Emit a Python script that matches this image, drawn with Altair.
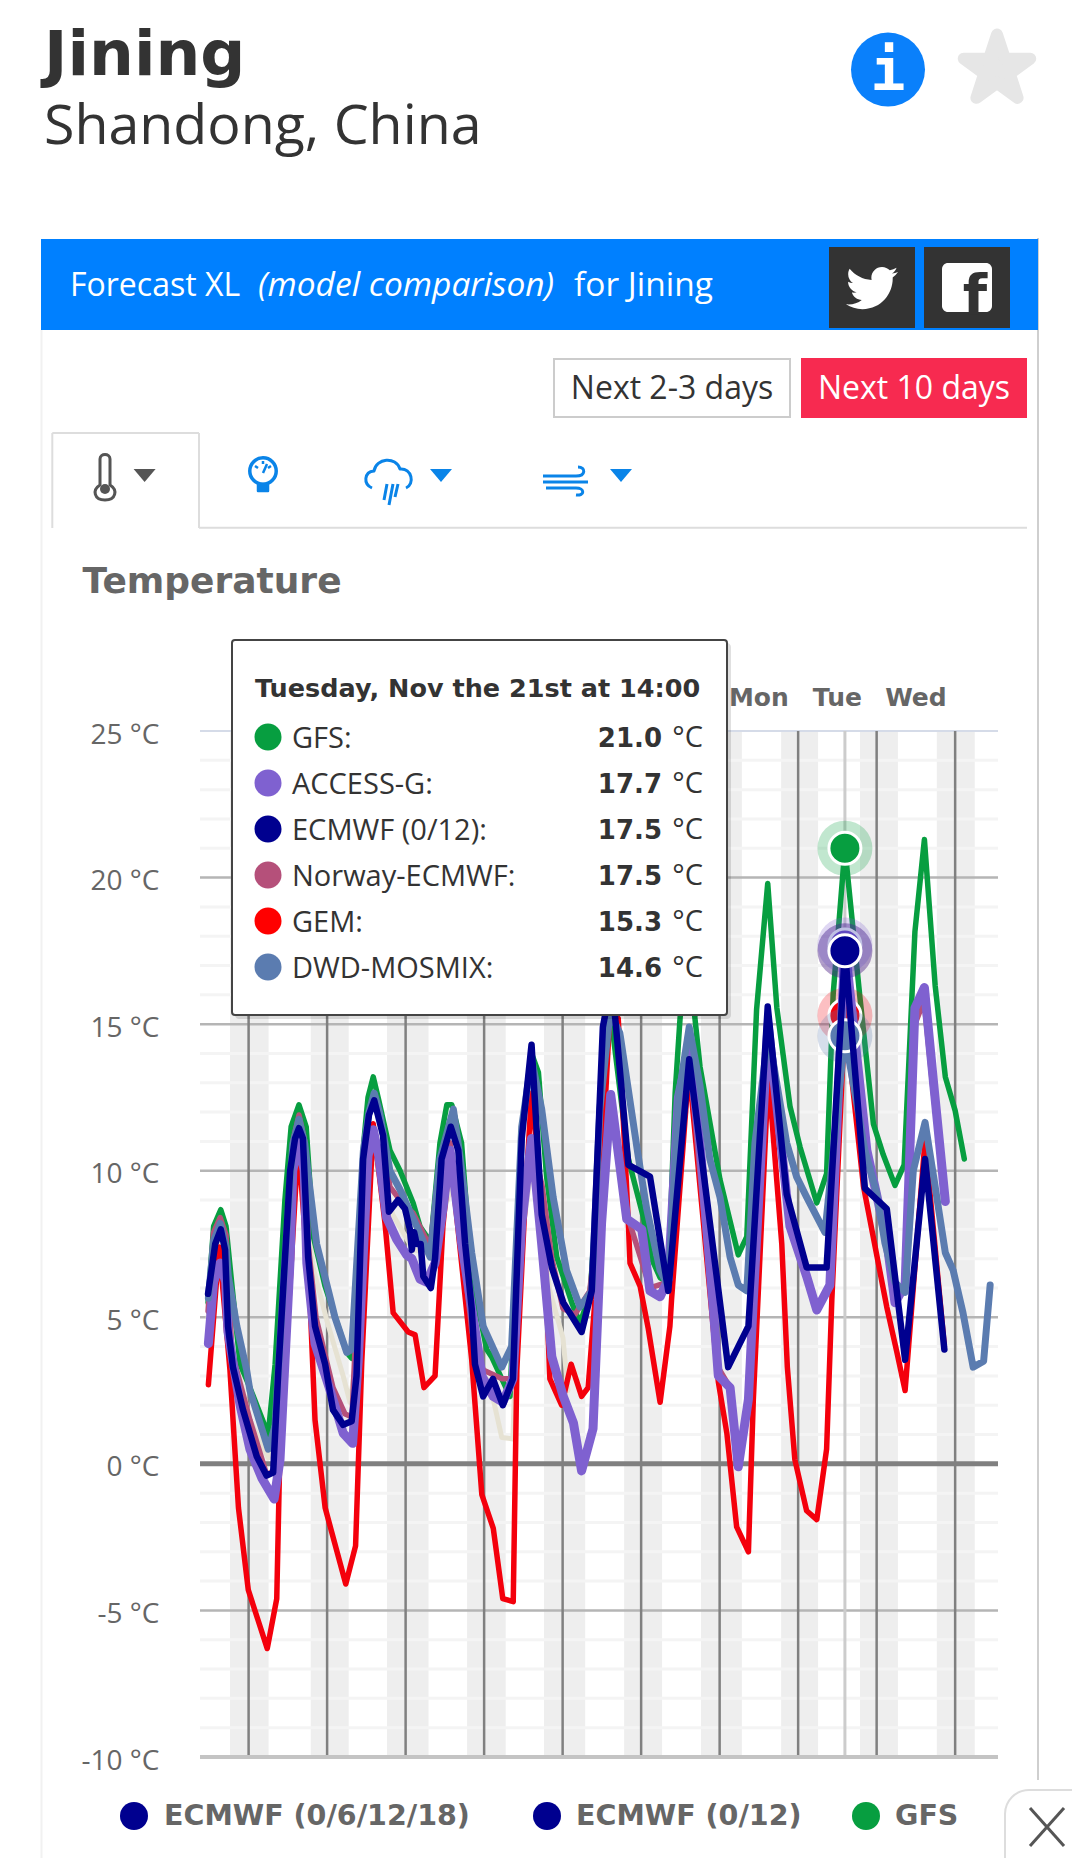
import altair as alt
import pandas as pd

# ---- chart data: hours after Tue Nov 14 00:00, temperatures in deg C ----
GFS_H = [-12.4,-10.7,-8.5,-6.9,-5.2,-2.6,0.4,6,8.1,11.1,13,15.4,17.6,19.8,23.4,30,31.5,35.2,36.5,38.1,39.8,43.2,46.3,50.3,52.4,55.7,58.5,60.6,62.1,65.1,68.2,72.8,74.3,79.9,83.5,86.5,88.6,91.1,94.2,98.8,101.3,104.4,110.5,116.1,120.7,123.2,125.8,128.3,130.4,131.9,134.6,136.4,138,144.1,149.7,152.3,155.3,158.7,161.5,165.5,168.6,173.7,176.7,178.7,182.3,186.9,191,194,197.6,200.4,203.7,206.6,209.9,213,216,218.8]
GFS_T = [5.5,8.1,8.67,8.1,6.2,3.4,2.6,1.0,3.4,9,11.5,12.25,11.5,7.75,6.05,3.8,3.6,10.95,12.5,13.2,12.4,10.7,10.0,8.9,8.1,7.55,10.95,12.25,12.25,10.95,6.4,3.9,3.65,2.3,11.3,14.0,13.35,9.8,7.06,5.5,4.8,5.8,15.5,10.4,8.4,7,6.35,6.2,12.65,15.2,18.5,15.25,13.55,9.7,7.13,7.75,15.5,19.8,15.55,12.2,10.8,8.9,9.9,16,21.0,15.9,11.6,10.55,9.5,10.2,18.15,21.3,16.3,13.2,12.05,10.4]

GEM_H = [-12.3,-9,-5.7,-3.1,-0.1,5.7,8.6,9.6,11.1,15.2,18.8,20.3,23.4,29.7,32.7,34.6,38.1,41.7,44.2,48.8,50.9,53.6,57,59.4,61.6,68.2,71.3,74.8,77.7,80.9,82,84.5,86.5,90.1,92.1,95.7,98.6,101.8,103.8,105.9,110.5,113,116.1,116.6,119.7,122.2,125.8,128.8,129.3,134.6,143.6,146.2,149.2,152.8,154.3,158.9,163,164.7,167,170.6,173.7,176.7,178.3,182.3,188,195.1,198.2,200.7,206.8,212.7]
GEM_T = [2.7,7.4,3.2,-1.5,-4.3,-6.3,-4.6,0.6,3.2,10.95,5.5,1.5,-1.5,-4.1,-2.8,3.5,11.6,8.2,5.15,4.5,4.4,2.6,3.0,8.1,10.6,3.55,-1.05,-2.2,-4.6,-4.7,3.2,8.9,12.65,8.4,2.9,2.0,3.4,2.3,2.6,5.6,15.5,15.2,8.2,6.85,6.05,4.6,2.1,4.7,5.6,13.5,2.8,1.05,-2.15,-3.0,2.2,13.3,7.5,3.3,0.14,-1.6,-1.9,0.5,5.6,15.3,9.45,5.35,3.8,2.5,11.05,4.0]

NORWAY_H = [-12.4,-10.7,-8.7,-6.9,-5.1,0.4,5.6,7.8,11.1,13.5,15.4,17.2,18.2,20.6,25.8,29.5,31.6,35,36.8,38.4,40,43.2,46.3,50.3,55.5,58.5,61.6,65.2,68.3,71.7,77.5,80.8,83.6,86.6,89.7,92.7,96.1,99.8,104.3,110.7,116,122.7,128.2,134.6,143.5,147.2,149.6,152.7,158.8,165.5,170.7,173.8,177.8,182.3,189.1,195.2,197.6,200.7,203.7,206.5,209.2,213]
NORWAY_T = [5.2,7.9,8.4,7.8,3.8,1.5,-0.4,-0.2,5,11,11.9,11,7.5,5,2.6,1.7,1.6,10,12,12.65,12,9.45,9.0,8.55,7.4,10.4,10.95,7.5,4.5,3.2,2.9,2.9,9,11,9.5,7,5.3,5.1,5.9,12.4,8.4,6,6.2,14,3.3,2.6,0,2.2,14.5,8.1,6.4,5.3,6.1,17.5,10.7,7.6,5.6,6.1,15,15.8,12.8,9]

ACCESS_H = [-12.3,-10.7,-8.7,-7,-6.3,-2.6,0.4,4.1,7.8,9.6,12.7,13.5,15.2,17,17.8,20.3,25.8,28.9,31.8,33.5,36.5,38.1,39.8,42.2,45.3,48.3,49.9,52.4,54.4,57,59.4,61.6,65.1,68.2,70.2,71.3,74.8,77.7,80.8,83.5,86.5,89.6,92.7,96.2,99.3,101.8,105.3,107.9,110.7,115.6,120.2,122.7,125.8,128.3,131.4,134.7,138,142.1,143.6,147.2,149.7,152.8,154.3,158.8,165.5,170.6,173.7,177.7,182.3,189,195.1,197.6,200.7,203.7,206.6,209.4,213]
ACCESS_T = [4.1,6.2,6.85,6.2,4.5,2.0,0.5,-0.5,-1.2,0.14,7,10,11,10,6.85,4.1,2.2,1.05,0.7,3.5,10.5,11.4,10.5,8.4,7.65,7.13,7,6.3,6.2,6.85,8.7,10.7,7.55,5.3,3.9,3.0,2.3,2.1,2.9,8.2,11.1,7.5,3.65,2.3,1.4,-0.24,1.2,8.2,12.6,8.35,8,5.9,5.7,6.3,12.5,14.2,10.95,5.25,3.0,2.6,-0.1,2.2,5.6,15,8.1,6.4,5.25,6.1,17.7,10.7,7.6,5.5,6.1,15.55,16.25,13,8.95]

DWD_H = [-12.3,-10.7,-8.7,-6.9,-6.2,-3.6,-0.6,0.4,6,8.1,11.1,13.5,15.4,17.2,18.3,20.8,24.4,26.4,30,31.5,35.1,36.8,38.4,40,43.2,46.3,51.4,55.5,58.5,62.6,64.6,68.2,71.7,77.4,80.4,83.5,86.5,89.6,93.1,97.2,101.3,104.9,107.4,110.5,113.5,119.1,121.7,125.8,128.3,131.4,134.7,138,141,144.1,147.2,149.7,152.3,154.8,158.9,164.5,167.5,170.6,176.2,182.3,188.4,192,194.5,197.6,200.7,203.2,206.8,209.9,213,215.4,218.4,221.5,224.7,226.7]
DWD_T = [5.65,7.6,8.2,7.4,6.4,4.7,3.2,2.5,0.5,1.3,7,10.9,11.75,10.9,9.8,7.5,5.9,5,3.8,3.9,10.7,12,12.65,12,10,9.35,8.1,7.05,10.4,12.1,10.5,7.2,4.7,3.3,4,11.5,13.8,12.1,9.1,6.6,5.35,5.9,12.1,15.4,14.7,10.5,8.7,6.6,6.05,12.5,14.9,12.9,10.4,9.1,7.05,6.1,5.9,10.95,14.7,10.95,9.8,9.1,7.9,14.6,10.7,9.25,7.55,6.2,5.85,10,11.65,9.45,7.2,6.6,5.15,3.3,3.5,6.1]

ECMWF_H = [-12.4,-10.2,-8.5,-7.2,-6.3,-4.8,-1.7,2.5,5.5,7.5,9.1,12.7,14.2,15.4,16.6,18.2,20.3,23.4,25.8,28.9,31.5,33,35,36.8,38.4,41.1,42.9,45.7,47.8,49.3,49.9,50.6,51.4,52.6,53.4,55.7,57,59,61.8,64.1,66.2,68.2,69.2,71.7,74.7,77.7,80.8,83.5,86.5,89.6,92.7,96.2,101.8,104.9,108.3,110.5,112,116.1,122.7,128.3,134.7,146.6,152.8,158.7,164.5,170.6,176.7,182.3,188.4,195.1,200.7,206.8,212.7]
ECMWF_T = [5.8,7.5,8.0,7.3,4.7,3.3,1.84,0.25,-0.4,-0.3,3.2,10.0,11.1,11.45,11.1,7.06,4.7,3.4,1.84,1.33,1.45,3.0,10.4,11.9,12.4,11.2,8.6,9.0,8.7,8.0,7.3,7.9,7.5,7.5,6.4,6.0,7,10.4,11.5,10.7,7.5,5.3,3.4,2.3,2.9,2.0,2.9,11.1,14.3,8.5,6.7,5.5,4.5,5.9,14.9,16.2,15.3,10.2,9.8,5.9,13.8,3.3,4.7,15.6,9.2,6.7,6.7,17.5,9.4,8.7,3.55,10.4,3.9]

OTHER_H = [-12.4,-8.7,-5.1,0.4,6,8.4,11.1,15.4,19.7,23.9,28.9,31,33.4,37.9,44.1,50.3,55.5,62.5,68.6,73.8,77.4,80.8,82.4,86.5,92.1,96.1,97.6]
OTHER_T = [5,8,4,1.5,0.2,0.8,6,11,6.7,4.9,3,2.1,4,10.65,8.5,7.3,7.2,9.6,3.65,2.7,0.9,0.85,6.7,10.2,5.9,4.3,2.5]

HOVER_HOUR = 182.3
MIDNIGHTS = [0,24,48,72,96,120,144,168,192,216]
NIGHT_START = [-5.7,19,42.3,66.8,90.3,114.8,138.3,162.8,186.9,210.4]
NIGHT_END = [6.1,30.6,55,78.6,102.9,126.4,150.8,174.1,198.5,222]
MINOR_T = [t for t in range(-9,25) if t % 5 != 0]
MAJOR_T = [-5,5,10,15,20]
Y_TICKS = [-10,-5,0,5,10,15,20,25]
DAY_NAMES = ["Mon","Tue","Wed"]
DAY_HOURS = [156,180,204]
TIP_ROWS = ["GFS:","ACCESS-G:","ECMWF (0/12):","Norway-ECMWF:","GEM:","DWD-MOSMIX:"]
TIP_VALUES = ["21.0","17.7","17.5","17.5","15.3","14.6"]
C_GFS,C_ACC,C_ECM,C_NOR,C_GEM,C_DWD = "#079e40","#7f61d0","#00008f","#b5507a","#f4000c","#5b7cb0"
C_TIP = [C_GFS,C_ACC,C_ECM,C_NOR,"#ff0000",C_DWD]

BODY = "Open Sans"
HEAD = "DejaVu Sans"
OX, OY = 200, 731          # plot origin on the page
W, H = 798, 1026

X_SCALE = alt.Scale(domain=[-14.86,229.1], nice=False, zero=False)
Y_SCALE = alt.Scale(domain=[-10,25], nice=False, zero=False)
Y_AXIS = alt.Axis(values=Y_TICKS,domain=False,ticks=False,grid=False,title=None,
                labelExpr="datum.value + ' °C'",labelFont=BODY,labelFontSize=28,labelColor="#666666",
                labelPadding=41,labelBaseline="middle",labelOffset=4)
xq = lambda f: alt.X(f, type="quantitative", scale=X_SCALE, axis=None)
yq = lambda f: alt.Y(f, type="quantitative", scale=Y_SCALE, axis=Y_AXIS)
ONE = alt.Data(values=[{"a":0}])
vx = lambda v: alt.value(v-OX)
vy = lambda v: alt.value(v-OY)

def rect(x0,y0,x1,y1,**kw):
    return alt.Chart(ONE).mark_rect(**kw).encode(x=vx(x0),x2=vx(x1),y=vy(y0),y2=vy(y1))
def line(x0,y0,x1,y1,color,w):
    return alt.Chart(ONE).mark_rule(color=color,strokeWidth=w).encode(x=vx(x0),x2=vx(x1),y=vy(y0),y2=vy(y1))
def text(s,x,y,size,color="#333333",font=BODY,weight="normal",align="left",style="normal"):
    return alt.Chart(ONE).mark_text(text=s,font=font,fontSize=size,fontWeight=weight,color=color,
            align=align,baseline="alphabetic",fontStyle=style).encode(x=vx(x),y=vy(y))
def sym(shape,x,y,size,fill=None,stroke=None,w=0,opacity=1):
    kw = dict(shape=shape,size=size,opacity=opacity,strokeJoin="round")
    if fill: kw.update(filled=True,fill=fill)
    else: kw.update(filled=False,fill="transparent")
    kw.update(stroke=stroke if stroke else "transparent",strokeWidth=w)
    return alt.Chart(ONE).mark_point(**kw).encode(x=vx(x),y=vy(y))
TRI = "M-11,-6 L11,-6 L0,7 Z"

layers = []
# ---- page chrome ----
layers += [
    text("Jining",44,75,63,font=HEAD,weight="bold"),
    text("Shandong, China",44,144,55.5),
    sym("circle",888,69.6,5476,fill="#0a80fb"),
    text("i",888,90,58,color="white",font="DejaVu Sans Mono",weight="bold",align="center"),
    sym("M0,-1 L.225,-.31 L.95,-.31 L.364,.118 L.588,.81 L0,.382 L-.588,.81 L-.364,.118 L-.95,-.31 L-.225,-.31 Z",997,69.5,4900,fill="#e6e6e6",stroke="#e6e6e6",w=12),
    line(41.5,330,41.5,1866,"#f1f1f1",2),
    line(1038,238,1038,1780,"#cfcfcf",2),
    rect(41,239,1038,330,fill="#0080ff"),
    text("Forecast XL",70,296,32,color="white"),
    text("(model comparison)",258,296,33.5,color="white",style="italic"),
    text("for Jining",574,296,33.5,color="white"),
    rect(829,247,915,328,fill="#333333"),
    rect(924,247,1010,328,fill="#333333"),
    sym("M459.37 151.716c.325 4.548.325 9.097.325 13.645 0 138.72-105.583 298.558-298.558 298.558-59.452 0-114.68-17.219-161.137-47.106 8.447.974 16.568 1.299 25.34 1.299 49.055 0 94.213-16.568 130.274-44.832-46.132-.975-84.792-31.188-98.112-72.772 6.498.974 12.995 1.624 19.818 1.624 9.421 0 18.843-1.3 27.614-3.573-48.081-9.747-84.143-51.98-84.143-102.985v-1.299c13.969 7.797 30.214 12.67 47.431 13.319-28.264-18.843-46.781-51.005-46.781-87.391 0-19.492 5.197-37.36 14.294-52.954 51.655 63.675 129.3 105.258 216.365 109.807-1.624-7.797-2.599-15.918-2.599-24.04 0-57.828 46.782-104.934 104.934-104.934 30.213 0 57.502 12.67 76.67 33.137 23.715-4.548 46.456-13.32 66.599-25.34-7.798 24.366-24.366 44.833-46.132 57.827 21.117-2.273 41.584-8.122 60.426-16.243-14.292 20.791-32.161 39.308-52.628 54.253z",846,262,0.0413,fill="white"),
    rect(942,263,992,312,fill="white",cornerRadius=6),
    text("f",975,314,56,color="#333333",font="DejaVu Sans",weight="bold",align="center"),
    rect(554,359,790,417,fill="white",stroke="#cccccc",strokeWidth=2),
    text("Next 2-3 days",672,399,32,align="center"),
    rect(801,358,1027,418,fill="#f72a50"),
    text("Next 10 days",914,399,32,color="white",align="center"),
    line(52.3,433,199,433,"#dddddd",2),
    line(52.3,433,52.3,528,"#dddddd",2),
    line(199,433,199,528,"#dddddd",2),
    line(199,527.7,1027,527.7,"#dddddd",2),
    # thermometer
    sym("M-5,8 L-5,-18 C-5,-24 5,-24 5,-18 L5,8 C13,13 11,23 0,23 C-11,23 -13,13 -5,8 Z",105,477,4,stroke="#555555",w=3),
    sym("circle",105,489,100,fill="#555555"),
    sym(TRI,144.6,475,4,fill="#555555"),
    # gauge
    sym("circle",263,471,700,stroke="#0a84e8",w=3.5),
    sym("M-5,13 L-5,20 L5,20 L5,13 Z M0,2 L4,-7 M-8,-5 L-5,-3 M0,-10 L0,-7 M8,-5 L5,-3",263,471,4,fill="#0a84e8",stroke="#0a84e8",w=2.5),
    # rain cloud
    sym("M-18,10 C-27,6 -26,-6 -16,-7 C-14,-20 6,-22 10,-9 C22,-10 25,6 16,10 M-3,6 L-6,22 M3,6 L-1,27 M8,6 L5,19",390,478,4,stroke="#0a84e8",w=3),
    sym(TRI,441,475,4,fill="#0a84e8"),
    # wind
    sym("M-23,-5 L10,-5 C20,-5 20,-14 12,-14 M-23,1 L22,1 M-20,7 L10,7 C19,7 19,15 10,14",566,481,4,stroke="#0a84e8",w=3),
    sym(TRI,621,475,4,fill="#0a84e8"),
    text("Temperature",82.6,593,36,color="#666666",font=HEAD,weight="bold"),
]

# ---- plot furniture ----
bands = pd.DataFrame({"s":NIGHT_START,"e":NIGHT_END,"t0":[25]*10,"t1":[-10]*10})
layers.append(alt.Chart(bands).mark_rect(fill="#eeeeee").encode(x=xq("s"),x2="e",y=yq("t0"),y2="t1"))
hrule = lambda vals,c,w: alt.Chart(pd.DataFrame({"t":vals})).mark_rule(color=c,strokeWidth=w).encode(y=yq("t"))
layers.append(hrule(MINOR_T,"#f4f4f4",3))
layers.append(hrule(MAJOR_T,"#b5b5b5",2.5))
layers.append(hrule([25],"#d5dbe8",2))
layers.append(alt.Chart(pd.DataFrame({"h":MIDNIGHTS})).mark_rule(color="#808080",strokeWidth=2.5).encode(x=xq("h")))
layers.append(alt.Chart(pd.DataFrame({"h":[HOVER_HOUR]})).mark_rule(color="#cccccc",strokeWidth=3).encode(x=xq("h")))
layers.append(hrule([-10],"#c4c4c4",4))
layers.append(hrule([0],"#808080",5))

# ---- series, bottom to top, each with its hover marker ----
SERIES = [
    (OTHER_H,OTHER_T,"#e6e2d3",5,None),
    (GFS_H,GFS_T,C_GFS,5.5,21.0),
    (GEM_H,GEM_T,C_GEM,5.5,15.3),
    (NORWAY_H,NORWAY_T,C_NOR,5.5,17.5),
    (ACCESS_H,ACCESS_T,C_ACC,9,17.7),
    (DWD_H,DWD_T,C_DWD,7,14.6),
    (ECMWF_H,ECMWF_T,C_ECM,6.5,17.5),
]
for hs,ts,c,w,hv in SERIES:
    d = pd.DataFrame({"h":hs,"t":ts})
    layers.append(alt.Chart(d).mark_line(color=c,strokeWidth=w,strokeJoin="round",strokeCap="round").encode(x=xq("h"),y=yq("t")))
    if hv is not None:
        m = pd.DataFrame({"h":[HOVER_HOUR],"t":[hv]})
        layers.append(alt.Chart(m).mark_point(shape="circle",size=3025,filled=True,fill=c,opacity=.25,strokeWidth=0).encode(x=xq("h"),y=yq("t")))
        layers.append(alt.Chart(m).mark_point(shape="circle",size=1024,filled=True,fill=c,stroke="white",strokeWidth=3,opacity=1).encode(x=xq("h"),y=yq("t")))

# ---- day labels ----
layers.append(alt.Chart(pd.DataFrame({"h":DAY_HOURS,"d":DAY_NAMES})).mark_text(font=HEAD,fontWeight="bold",fontSize=25,color="#666666",baseline="middle").encode(
    x=xq("h"),y=alt.value(698-OY),text="d:N"))

# ---- tooltip ----
layers += [
    rect(235,643,731,1019,fill="#000000",opacity=.12,cornerRadius=4),
    rect(232,640,727,1015,fill="white",stroke="#444444",strokeWidth=2,cornerRadius=3),
    text("Tuesday, Nov the 21st at 14:00",255,697,25.5,font=HEAD,weight="bold",color="#333333"),
]
for i,(nm,val,col) in enumerate(zip(TIP_ROWS,TIP_VALUES,C_TIP)):
    yc = 737+46*i
    layers += [
        sym("circle",268,yc,729,fill=col),
        text(nm,292,yc+11,29,color="#333333"),
        text(val,662,yc+10,26,color="#333333",font=HEAD,weight="bold",align="right"),
        text("°C",703,yc+10,29,color="#333333",align="right"),
    ]

# ---- legend & close box ----
for dot,tx,name,col in [(134,164,"ECMWF (0/6/12/18)",C_ECM),(547,576,"ECMWF (0/12)",C_ECM),(866,895,"GFS",C_GFS)]:
    layers += [sym("circle",dot,1816,784,fill=col),
               text(name,tx,1825,28.5,color="#666666",font=HEAD,weight="bold")]
layers += [
    rect(1005,1790,1110,1900,fill="white",stroke="#dddddd",strokeWidth=2,cornerRadius=24),
    line(1030,1808,1064,1846,"#555555",3),
    line(1064,1808,1030,1846,"#555555",3),
    rect(0,1860,1005,1866,fill="#f3f3f3"),
]

chart = alt.layer(*layers).properties(
    width=W,height=H,
    padding={"left":OX-8,"top":OY-8,"right":1072-OX-W,"bottom":1858-OY-H},
    autosize=alt.AutoSizeParams(type="none"),
    background="white",
).configure_view(stroke=None)
chart.save("out.html", embed_options={"renderer": "svg", "actions": False})
